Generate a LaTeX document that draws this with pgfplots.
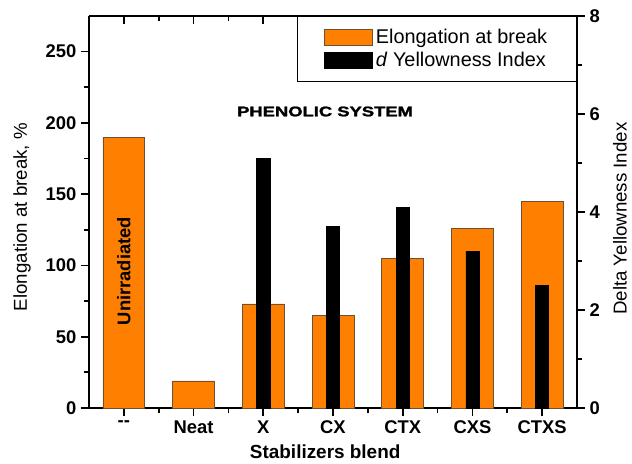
\documentclass[border=0pt]{standalone}
\usepackage{fontspec}
\setmainfont{Liberation Sans}
\newfontfamily\blackfont[FakeBold=1.6]{Liberation Sans}
\usepackage{pgfplots}
\pgfplotsset{compat=1.18}
\definecolor{barorange}{RGB}{255,128,0}
\definecolor{baredge}{RGB}{110,80,50}
\begin{document}
\begin{tikzpicture}
\path[use as bounding box] (-66.75pt,-42pt) rectangle (407.25pt,306pt);
\pgfplotsset{
  common/.style={
    width=366pt, height=294pt, scale only axis,
    at={(0pt,0pt)}, anchor=south west,
    xmin=-0.5, xmax=6.5,
    xtick={0,...,6}, minor x tick num=1,
    axis line style={line width=1.5pt},
    major tick style={line width=1.3pt, black},
    minor tick style={line width=1.3pt, black},
    major tick length=6pt, minor tick length=4pt,
    /pgf/number format/assume math mode=true,
    ticklabel style={font=\fontsize{13.8}{15}\selectfont\bfseries},
    clip=false,
  }
}
% left axis: elongation at break
\begin{axis}[common,
  axis x line*=bottom, axis y line*=left,
  tick align=outside,
  ymin=0, ymax=275, ytick={0,50,...,250}, minor y tick num=1,
  xticklabels={{-}{-},Neat,X,CX,CTX,CXS,CTXS},
  xlabel={Stabilizers blend},
  xlabel style={at={(axis description cs:0.484,-0.112)}, anchor=center, font=\fontsize{14.2}{16}\selectfont\bfseries},
  ylabel={Elongation at break, \%},
  ylabel style={at={(axis description cs:-0.137,0.487)}, anchor=center, rotate=0, font=\fontsize{14}{16}\selectfont},
]
\addplot[ybar, bar width=0.6, fill=barorange, draw=baredge, line width=0.6pt]
  coordinates {(0,190) (1,19) (2,73) (3,65) (4,105) (5,126) (6,145)};
\node[rotate=90, font=\fontsize{13.75}{15}\selectfont\bfseries] at (axis cs:0,96) {Unirradiated};
\node[font=\fontsize{10}{12}\selectfont\blackfont\bfseries] at (axis cs:2.886,208) {\scalebox{1.38}[1.05]{PHENOLIC SYSTEM}};
\end{axis}
% top ticks (inside)
\begin{axis}[common,
  axis x line*=top, axis y line=none,
  tick align=inside,
  ymin=0, ymax=1,
  xticklabels={},
]
\end{axis}
% right axis: delta yellowness index
\begin{axis}[common,
  axis x line=none, axis y line*=right,
  tick align=outside,
  ymin=0, ymax=8, ytick={0,2,4,6,8}, minor y tick num=1,
  ylabel={Delta Yellowness Index},
  ylabel style={at={(axis description cs:1.088,0.483)}, anchor=center, rotate=0, font=\fontsize{14}{16}\selectfont},
  legend style={at={(1,1)}, anchor=north east, draw=black, line width=0.8pt,
    font=\fontsize{14.9}{16}\selectfont, inner xsep=20pt, inner ysep=7.5pt, row sep=1pt,
    /tikz/every even column/.append style={column sep=0pt}},
  legend cell align=left,
]
\addlegendimage{legend image code/.code={\draw[fill=barorange, draw=baredge, line width=0.6pt] (0pt,-6pt) rectangle (36pt,6pt);}}
\addlegendentry{Elongation at break}
\addlegendimage{legend image code/.code={\draw[fill=black, draw=black] (0pt,-6pt) rectangle (36pt,6pt);}}
\addlegendentry{\textit{d} Yellowness Index}
\addplot[ybar, bar width=0.19, fill=black, draw=black, forget plot]
  coordinates {(2,5.1) (3,3.7) (4,4.1) (5,3.2) (6,2.5)};
\end{axis}
\end{tikzpicture}
\end{document}
